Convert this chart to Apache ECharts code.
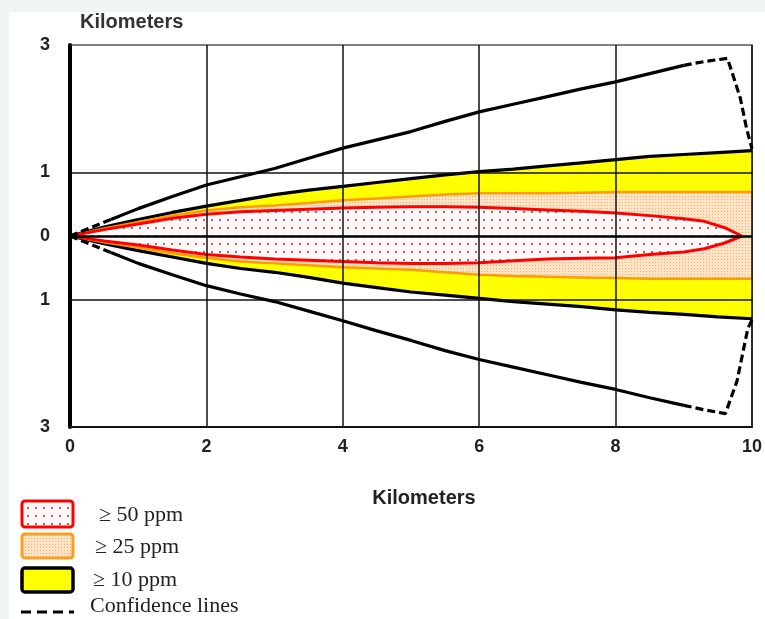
<!DOCTYPE html>
<html><head><meta charset="utf-8">
<script src="https://cdn.jsdelivr.net/npm/echarts@6.0.0/dist/echarts.min.js"></script>
<style>
html,body{margin:0;padding:0;}
#c{width:765px;height:619px;background:linear-gradient(#fff,#fff) 9px 12px/756px 607px no-repeat,#eef5f2;}
</style></head><body><div id="c"></div>
<script>
// ---- data ----
const xTickLabels = ['0','2','4','6','8','10'];
const yTickValues = [-3, -1, 0, 1, 3];
const yTickLabels = ['3', '1', '0', '1', '3'];
const hLines = [1, -1];

const gridX = [0,0.5,1,1.5,2,2.5,3,3.5,4,4.5,5,5.5,6,6.5,7,7.5,8,8.5,9,9.5,10];
const yellowTop = [0,0.14,0.26,0.37,0.47,0.56,0.65,0.72,0.78,0.84,0.90,0.96,1.01,1.05,1.10,1.15,1.20,1.25,1.28,1.31,1.34];
const yellowBottom = [0,-0.12,-0.23,-0.33,-0.43,-0.51,-0.57,-0.65,-0.74,-0.81,-0.88,-0.93,-0.98,-1.03,-1.07,-1.11,-1.16,-1.20,-1.23,-1.27,-1.30];
const orangeTop = [0,0.12,0.22,0.32,0.40,0.45,0.48,0.52,0.56,0.59,0.62,0.65,0.67,0.67,0.67,0.68,0.69,0.69,0.69,0.69,0.69];
const orangeBottom = [0,-0.10,-0.18,-0.27,-0.34,-0.40,-0.43,-0.46,-0.49,-0.51,-0.53,-0.57,-0.61,-0.63,-0.64,-0.65,-0.66,-0.67,-0.67,-0.67,-0.67];

const redX = [0,0.5,1,1.5,2,2.5,3,3.5,4,4.5,5,5.5,6,6.5,7,7.5,8,8.5,9,9.3,9.6,9.85];
const redTop = [0,0.10,0.19,0.28,0.34,0.38,0.40,0.42,0.44,0.45,0.46,0.46,0.45,0.43,0.41,0.39,0.36,0.32,0.27,0.23,0.13,0];
const redBottom = [0,-0.08,-0.14,-0.22,-0.29,-0.33,-0.36,-0.38,-0.40,-0.42,-0.43,-0.43,-0.42,-0.39,-0.36,-0.35,-0.34,-0.29,-0.25,-0.20,-0.11,0];

const confUpperX = [0,0.3,0.6,1.0,1.5,2,2.5,3,3.5,4,4.5,5,5.5,6,6.5,7,7.5,8,8.5,9,9.3,9.64,9.75,9.83,9.92,10];
const confUpperY = [0,0.13,0.26,0.43,0.62,0.80,0.93,1.06,1.22,1.38,1.51,1.64,1.80,1.95,2.07,2.19,2.31,2.42,2.55,2.68,2.74,2.79,2.43,2.16,1.69,1.37];
const confLowerX = [0,0.3,0.6,1.0,1.5,2,2.5,3,3.5,4,4.5,5,5.5,6,6.5,7,7.5,8,8.5,9,9.3,9.61,9.78,9.87,9.94,10];
const confLowerY = [0,-0.13,-0.26,-0.43,-0.61,-0.78,-0.91,-1.03,-1.18,-1.33,-1.49,-1.64,-1.80,-1.94,-2.06,-2.18,-2.30,-2.41,-2.54,-2.66,-2.73,-2.79,-2.28,-1.81,-1.45,-1.32];
const dashEndStart = 0.6;   // solid part begins (km)
const dashTailStart = 9;    // dashed tail begins (km)

const legendLabels = ['\u2265 50 ppm', '\u2265 25 ppm', '\u2265 10 ppm', 'Confidence lines'];
const axisTitle = 'Kilometers';

// ---- patterns ----
function dotPattern(bg, dot, size, ds) {
  const c = document.createElement('canvas');
  c.width = size; c.height = size;
  const g = c.getContext('2d');
  g.fillStyle = bg; g.fillRect(0, 0, size, size);
  g.fillStyle = dot; g.fillRect(Math.floor(size/2 - ds/2), Math.floor(size/2 - ds/2), ds, ds);
  return { image: c, repeat: 'repeat' };
}
const redPat = dotPattern('#fffafa', '#e2505e', 8, 2);
const orangePat = dotPattern('#fde4c6', '#f2ad6c', 3, 1);

const pairs = (xs, ys) => xs.map((x, i) => [x, ys[i]]);

function band(xs, ys, stroke, w, fill) {
  return {
    type: 'line', data: pairs(xs, ys), symbol: 'none', silent: true, z: 2,
    lineStyle: { color: stroke, width: w },
    areaStyle: { color: fill, opacity: 1, origin: 0 }
  };
}
function confSeries(xs, ys) {
  const iA = xs.indexOf(dashEndStart), iB = xs.indexOf(dashTailStart);
  const all = pairs(xs, ys);
  const mk = (d, dashed) => ({
    type: 'line', data: d, symbol: 'none', silent: true, z: 5,
    lineStyle: { color: '#000', width: 3.2, type: dashed ? [8, 4] : 'solid' }
  });
  return [mk(all.slice(0, iA + 1), true), mk(all.slice(iA, iB + 1), false), mk(all.slice(iB), true)];
}

const series = [
  band(gridX, yellowTop, '#000', 3.2, '#ffff00'),
  band(gridX, yellowBottom, '#000', 3.2, '#ffff00'),
  band(gridX, orangeTop, '#ff9a00', 2.5, orangePat),
  band(gridX, orangeBottom, '#ff9a00', 2.5, orangePat),
  band(redX, redTop, '#ff0000', 3, redPat),
  band(redX, redBottom, '#ff0000', 3, redPat),
  ...confSeries(confUpperX, confUpperY),
  ...confSeries(confLowerX, confLowerY)
];
// grid lines (horizontal) and centre line on top of the fills
series.push({
  type: 'line', data: [], z: 6, silent: true,
  markLine: {
    symbol: 'none', silent: true, label: { show: false },
    data: hLines.map(v => ({ yAxis: v, lineStyle: { color: '#111', width: 1.5, type: 'solid' } }))
      .concat([{ yAxis: 0, lineStyle: { color: '#000', width: 2.5, type: 'solid' } }])
  }
});

const chart = echarts.init(document.getElementById('c'), null, { renderer: 'canvas' });
const labelFont = { fontFamily: 'Liberation Sans, Arial, sans-serif', fontWeight: 'bold', fontSize: 18, color: '#222' };
const serif = '"Liberation Serif", "Times New Roman", serif';

chart.setOption({
  animation: false,
  backgroundColor: 'transparent',
  grid: { left: 70, right: 8, top: 45, bottom: 192, show: true, backgroundColor: '#fff', borderColor: '#555', borderWidth: 1.5 },
  xAxis: {
    type: 'value', min: 0, max: 10, interval: 2, z: 4,
    axisLine: { show: true, onZero: false, lineStyle: { color: '#111', width: 2 } },
    axisTick: { show: false },
    axisLabel: Object.assign({ margin: 11, formatter: v => xTickLabels[Math.round(v / 2)] }, labelFont),
    splitLine: { show: true, lineStyle: { color: '#111', width: 1.5 } }
  },
  yAxis: {
    type: 'value', min: -3, max: 3, interval: 1, z: 4,
    axisLine: { show: true, lineStyle: { color: '#000', width: 4 } },
    axisTick: { show: false },
    axisLabel: Object.assign({ margin: 20, formatter: v => { const i = yTickValues.indexOf(v); return i < 0 ? '' : yTickLabels[i]; } }, labelFont),
    splitLine: { show: false }
  },
  series: series,
  graphic: [
    { type: 'text', x: 80, y: 22, style: { text: axisTitle, font: 'bold 20px "Liberation Sans", Arial, sans-serif', fill: '#333', textVerticalAlign: 'middle', verticalAlign: 'middle' } },
    { type: 'text', x: 424, y: 498, style: { text: axisTitle, font: 'bold 20px "Liberation Sans", Arial, sans-serif', fill: '#222', textAlign: 'center', align: 'center', textVerticalAlign: 'middle', verticalAlign: 'middle' } },
    { type: 'rect', shape: { x: 22, y: 501, width: 51, height: 26, r: 3 }, style: { fill: redPat, stroke: '#ff0000', lineWidth: 3 } },
    { type: 'rect', shape: { x: 22, y: 534, width: 51, height: 24, r: 3 }, style: { fill: orangePat, stroke: '#f7a021', lineWidth: 3 } },
    { type: 'rect', shape: { x: 22, y: 568, width: 51, height: 24, r: 3 }, style: { fill: '#ffff00', stroke: '#000', lineWidth: 3.5 } },
    { type: 'line', shape: { x1: 21, y1: 612, x2: 74, y2: 612 }, style: { stroke: '#000', lineWidth: 3, lineDash: [10, 6] } },
    { type: 'text', x: 99, y: 515, style: { text: legendLabels[0], font: '22px ' + serif, fill: '#222', textVerticalAlign: 'middle', verticalAlign: 'middle' } },
    { type: 'text', x: 95, y: 547, style: { text: legendLabels[1], font: '22px ' + serif, fill: '#222', textVerticalAlign: 'middle', verticalAlign: 'middle' } },
    { type: 'text', x: 93, y: 580, style: { text: legendLabels[2], font: '22px ' + serif, fill: '#222', textVerticalAlign: 'middle', verticalAlign: 'middle' } },
    { type: 'text', x: 90, y: 606, style: { text: legendLabels[3], font: '22px ' + serif, fill: '#222', textVerticalAlign: 'middle', verticalAlign: 'middle' } }
  ]
});
</script></body></html>
